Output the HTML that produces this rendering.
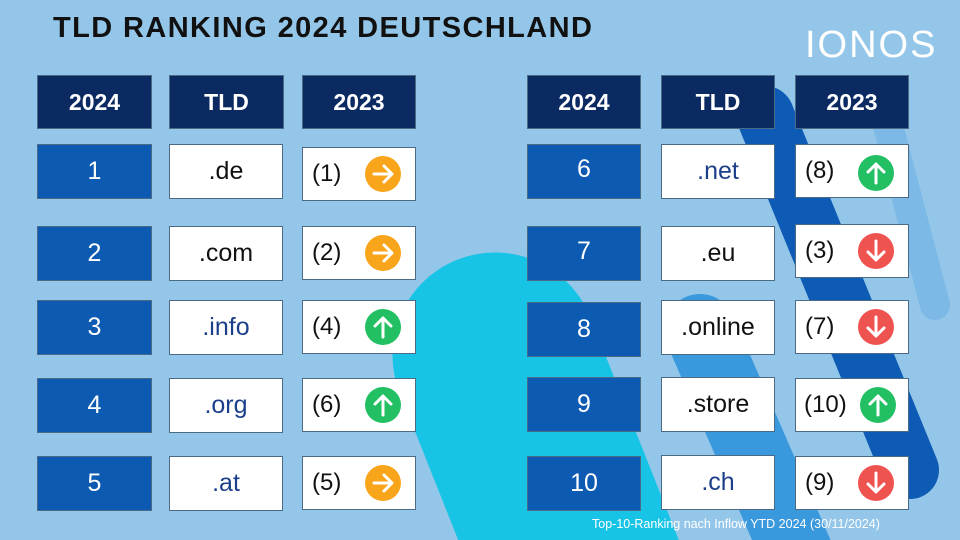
<!DOCTYPE html>
<html style="overflow:hidden"><head><meta charset="utf-8"><style>
html,body{margin:0;width:960px;height:540px;overflow:hidden}
body{background:#93c6e8;position:relative;font-family:"Liberation Sans",sans-serif}
svg.bg{position:absolute;left:0;top:0;display:block}
.t{position:absolute;left:53px;top:12px;font-size:29px;font-weight:bold;color:#111;letter-spacing:1.4px;white-space:nowrap}
.logo{position:absolute;left:805px;top:24px;font-size:38px;color:#fff;letter-spacing:2px;white-space:nowrap}
.b{position:absolute;box-sizing:border-box;display:flex;align-items:center;justify-content:center;border:1px solid #4a6a85}
.h{background:#0c2a62;color:#fff;font-weight:bold;font-size:23px;height:54px}
.n{background:#0c5ab2;color:#fff;font-size:25px;height:55px}
.w{background:#fff;color:#111;font-size:25px;height:55px}
.w.bl{color:#1b3f8a}
.c{background:#fff;color:#111;font-size:24px;height:54px;justify-content:flex-start;padding-left:9px}
.ic{position:absolute;right:14px;top:50%;margin-top:-18px;width:36px;height:36px}
.foot{position:absolute;left:592px;top:517px;font-size:12.5px;color:#fff;white-space:nowrap}
</style></head><body>
<svg width="0" height="0" style="position:absolute">
<defs>
<g id="o"><circle cx="18" cy="18" r="18" fill="#f8a51b"/><path d="M9 18H27M19 10L27 18L19 26" stroke="#fff" stroke-width="3" fill="none" stroke-linecap="round" stroke-linejoin="round"/></g>
<g id="g"><circle cx="18" cy="18" r="18" fill="#22c063"/><path d="M18 28V9M10 17L18 9L26 17" stroke="#fff" stroke-width="3" fill="none" stroke-linecap="round" stroke-linejoin="round"/></g>
<g id="r"><circle cx="18" cy="18" r="18" fill="#ef5350"/><path d="M18 8V27M10 19L18 27L26 19" stroke="#fff" stroke-width="3" fill="none" stroke-linecap="round" stroke-linejoin="round"/></g>
</defs></svg>
<svg class="bg" width="960" height="540">
<line x1="495" y1="355" x2="640" y2="720" stroke="#18c4e6" stroke-width="205" stroke-linecap="round"/>
<line x1="880" y1="95" x2="935" y2="305" stroke="#7cb9e6" stroke-width="30" stroke-linecap="round"/>
<line x1="700" y1="330" x2="800" y2="560" stroke="#3a98dd" stroke-width="72" stroke-linecap="round"/>
<line x1="765" y1="115" x2="910" y2="470" stroke="#0e5bb6" stroke-width="58" stroke-linecap="round"/>
</svg>
<div class="t">TLD RANKING 2024 DEUTSCHLAND</div>
<div class="logo">IONOS</div>

<div class="b h" style="left:37px;top:75px;width:115px">2024</div>
<div class="b h" style="left:169px;top:75px;width:115px">TLD</div>
<div class="b h" style="left:302px;top:75px;width:114px">2023</div>
<div class="b h" style="left:527px;top:75px;width:114px">2024</div>
<div class="b h" style="left:661px;top:75px;width:114px">TLD</div>
<div class="b h" style="left:795px;top:75px;width:114px">2023</div>

<div class="b n" style="left:37px;top:144px;width:115px">1</div>
<div class="b w" style="left:169px;top:144px;width:114px">.de</div>
<div class="b c" style="left:302px;top:147px;width:114px">(1)<svg class="ic"><use href="#o"/></svg></div>
<div class="b n" style="left:37px;top:226px;width:115px">2</div>
<div class="b w" style="left:169px;top:226px;width:114px">.com</div>
<div class="b c" style="left:302px;top:226px;width:114px">(2)<svg class="ic"><use href="#o"/></svg></div>
<div class="b n" style="left:37px;top:300px;width:115px">3</div>
<div class="b w bl" style="left:169px;top:300px;width:114px">.info</div>
<div class="b c" style="left:302px;top:300px;width:114px">(4)<svg class="ic"><use href="#g"/></svg></div>
<div class="b n" style="left:37px;top:378px;width:115px">4</div>
<div class="b w bl" style="left:169px;top:378px;width:114px">.org</div>
<div class="b c" style="left:302px;top:378px;width:114px">(6)<svg class="ic"><use href="#g"/></svg></div>
<div class="b n" style="left:37px;top:456px;width:115px">5</div>
<div class="b w bl" style="left:169px;top:456px;width:114px">.at</div>
<div class="b c" style="left:302px;top:456px;width:114px">(5)<svg class="ic"><use href="#o"/></svg></div>

<div class="b n" style="left:527px;top:144px;width:114px;align-items:flex-start;padding-top:10px">6</div>
<div class="b w bl" style="left:661px;top:144px;width:114px">.net</div>
<div class="b c" style="left:795px;top:144px;width:114px;align-items:flex-start;padding-top:12px">(8)<svg class="ic" style="margin-top:-16px"><use href="#g"/></svg></div>
<div class="b n" style="left:527px;top:226px;width:114px;align-items:flex-start;padding-top:10px">7</div>
<div class="b w" style="left:661px;top:226px;width:114px">.eu</div>
<div class="b c" style="left:795px;top:224px;width:114px;align-items:flex-start;padding-top:12px">(3)<svg class="ic"><use href="#r"/></svg></div>
<div class="b n" style="left:527px;top:302px;width:114px">8</div>
<div class="b w" style="left:661px;top:300px;width:114px">.online</div>
<div class="b c" style="left:795px;top:300px;width:114px;align-items:flex-start;padding-top:12px">(7)<svg class="ic"><use href="#r"/></svg></div>
<div class="b n" style="left:527px;top:377px;width:114px;align-items:flex-start;padding-top:12px">9</div>
<div class="b w" style="left:661px;top:377px;width:114px">.store</div>
<div class="b c" style="left:795px;top:378px;width:114px;padding-left:8px">(10)<svg class="ic" style="right:12px"><use href="#g"/></svg></div>
<div class="b n" style="left:527px;top:456px;width:114px">10</div>
<div class="b w bl" style="left:661px;top:455px;width:114px">.ch</div>
<div class="b c" style="left:795px;top:456px;width:114px">(9)<svg class="ic"><use href="#r"/></svg></div>

<div class="foot">Top-10-Ranking nach Inflow YTD 2024 (30/11/2024)</div>
</body></html>
